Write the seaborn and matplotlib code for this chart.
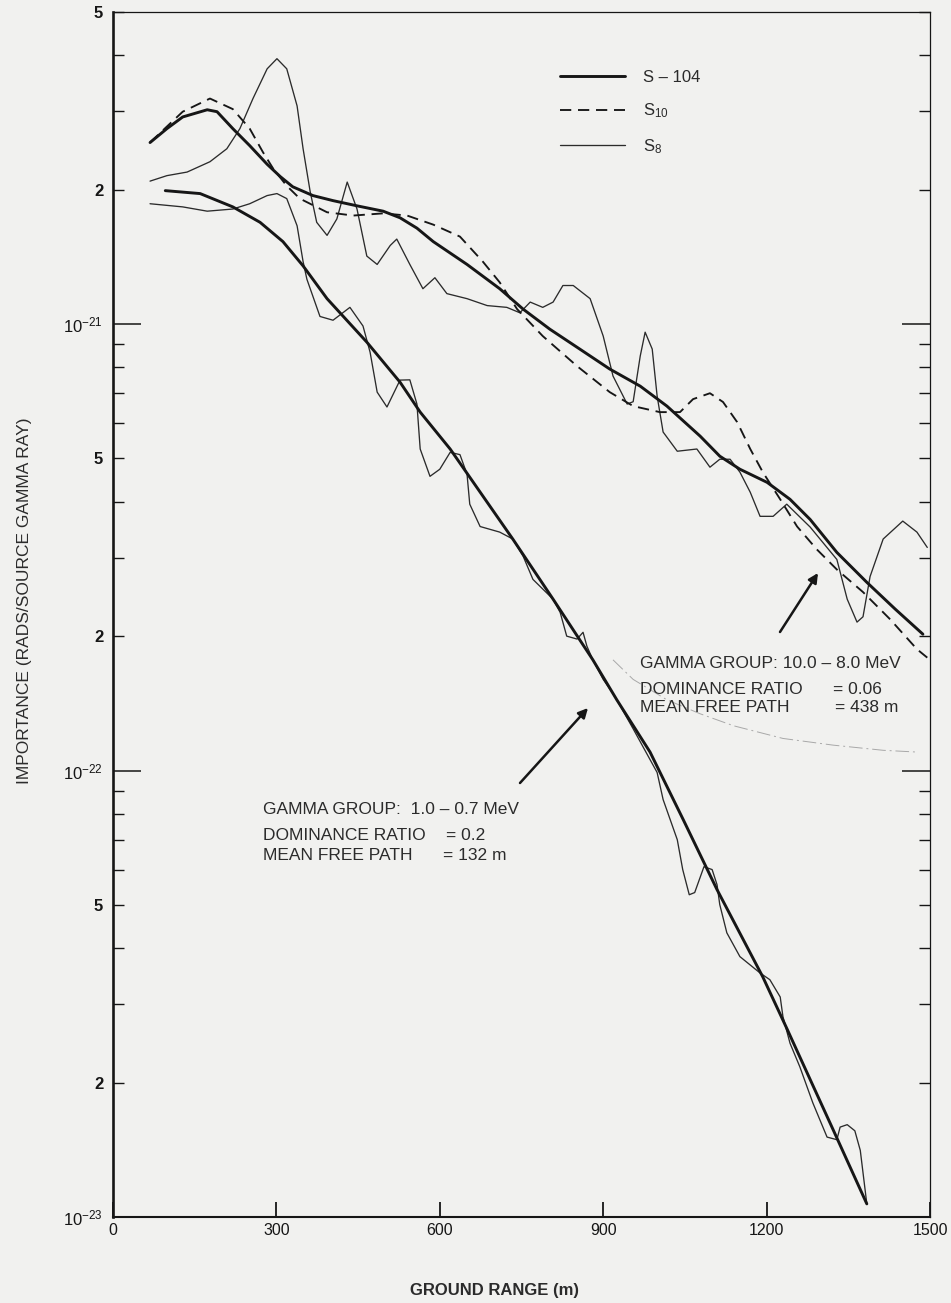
import numpy as np
import seaborn as sns
import matplotlib.pyplot as plt
from matplotlib.lines import Line2D

# Upper group (10.0 - 8.0 MeV): ground range (m) and importance
up_x_s104 = [68, 99, 128, 173, 191, 220, 251, 283, 307, 330, 367, 404, 448, 496, 527, 558, 588,
             650, 710, 753, 802, 857, 912, 968, 1017, 1078, 1114, 1151, 1201, 1243, 1280, 1329,
             1384, 1436, 1487]
up_y_s104 = [2.55e-21, 2.74e-21, 2.91e-21, 3.02e-21, 2.99e-21, 2.74e-21, 2.51e-21, 2.28e-21,
             2.14e-21, 2.03e-21, 1.94e-21, 1.89e-21, 1.84e-21, 1.79e-21, 1.73e-21, 1.64e-21,
             1.53e-21, 1.36e-21, 1.20e-21, 1.08e-21, 9.74e-22, 8.79e-22, 7.93e-22, 7.26e-22,
             6.55e-22, 5.61e-22, 5.06e-22, 4.73e-22, 4.42e-22, 4.05e-22, 3.65e-22, 3.08e-22,
             2.64e-22, 2.30e-22, 2.02e-22]

up_x_s10 = [68, 99, 128, 178, 220, 251, 275, 294, 319, 343, 393, 441, 496, 540, 588, 637, 679,
            710, 742, 789, 852, 912, 955, 1004, 1041, 1065, 1096, 1120, 1146, 1170, 1193, 1225,
            1256, 1292, 1329, 1377, 1427, 1476, 1495]
up_y_s10 = [2.55e-21, 2.77e-21, 2.99e-21, 3.20e-21, 3.03e-21, 2.74e-21, 2.43e-21, 2.23e-21,
            2.04e-21, 1.91e-21, 1.78e-21, 1.75e-21, 1.77e-21, 1.75e-21, 1.67e-21, 1.57e-21,
            1.38e-21, 1.24e-21, 1.08e-21, 9.4e-22, 8.05e-22, 7.04e-22, 6.55e-22, 6.35e-22,
            6.35e-22, 6.79e-22, 7.0e-22, 6.69e-22, 6.03e-22, 5.25e-22, 4.66e-22, 4.05e-22,
            3.52e-22, 3.13e-22, 2.82e-22, 2.51e-22, 2.18e-22, 1.87e-22, 1.79e-22]

up_x_s8 = [68, 99, 136, 178, 209, 233, 257, 283, 301, 319, 338, 349, 362, 374, 393, 411, 430,
           448, 466, 485, 509, 521, 545, 569, 591, 613, 650, 687, 723, 747, 766, 789, 808, 826,
           845, 876, 900, 918, 944, 955, 968, 977, 990, 999, 1010, 1036, 1072, 1096, 1114, 1133,
           1151, 1170, 1188, 1212, 1237, 1280, 1329, 1348, 1366, 1377, 1390, 1414, 1450, 1476,
           1495]
up_y_s8 = [2.09e-21, 2.15e-21, 2.19e-21, 2.31e-21, 2.47e-21, 2.74e-21, 3.20e-21, 3.73e-21,
           3.93e-21, 3.73e-21, 3.08e-21, 2.47e-21, 1.98e-21, 1.69e-21, 1.58e-21, 1.72e-21,
           2.08e-21, 1.81e-21, 1.42e-21, 1.36e-21, 1.50e-21, 1.55e-21, 1.36e-21, 1.20e-21,
           1.27e-21, 1.17e-21, 1.14e-21, 1.10e-21, 1.09e-21, 1.06e-21, 1.12e-21, 1.09e-21,
           1.12e-21, 1.22e-21, 1.22e-21, 1.14e-21, 9.4e-22, 7.65e-22, 6.62e-22, 6.7e-22,
           8.48e-22, 9.59e-22, 8.79e-22, 6.9e-22, 5.73e-22, 5.19e-22, 5.25e-22, 4.78e-22,
           4.98e-22, 4.98e-22, 4.66e-22, 4.2e-22, 3.71e-22, 3.71e-22, 3.95e-22, 3.51e-22,
           2.97e-22, 2.42e-22, 2.15e-22, 2.21e-22, 2.72e-22, 3.3e-22, 3.62e-22, 3.42e-22,
           3.16e-22]

# Lower group (1.0 - 0.7 MeV)
lo_x_s104 = [96, 160, 220, 270, 312, 349, 393, 466, 527, 564, 619, 679, 734, 808, 881, 925,
             986, 1047, 1109, 1193, 1238, 1322, 1384]
lo_y_s104 = [1.99e-21, 1.96e-21, 1.83e-21, 1.69e-21, 1.53e-21, 1.35e-21, 1.14e-21, 9.11e-22,
             7.41e-22, 6.35e-22, 5.25e-22, 4.12e-22, 3.30e-22, 2.42e-22, 1.77e-22, 1.44e-22,
             1.10e-22, 7.76e-23, 5.41e-23, 3.45e-23, 2.63e-23, 1.57e-23, 1.07e-23]

lo_x_s8 = [68, 128, 173, 220, 251, 283, 301, 319, 338, 349, 356, 380, 404, 435, 459, 472, 485,
           503, 527, 545, 558, 564, 582, 600, 619, 637, 650, 655, 674, 710, 734, 753, 771, 789,
           808, 821, 833, 852, 863, 870, 881, 900, 916, 925, 955, 999, 1010, 1036, 1046, 1058,
           1068, 1085, 1100, 1109, 1114, 1127, 1151, 1188, 1206, 1225, 1230, 1243, 1261, 1285,
           1311, 1329, 1335, 1348, 1362, 1372, 1384]
lo_y_s8 = [1.86e-21, 1.83e-21, 1.79e-21, 1.81e-21, 1.86e-21, 1.94e-21, 1.96e-21, 1.91e-21,
           1.66e-21, 1.38e-21, 1.26e-21, 1.04e-21, 1.02e-21, 1.09e-21, 9.9e-22, 8.65e-22,
           7.04e-22, 6.52e-22, 7.49e-22, 7.5e-22, 6.62e-22, 5.25e-22, 4.56e-22, 4.73e-22,
           5.16e-22, 5.1e-22, 4.61e-22, 3.95e-22, 3.52e-22, 3.42e-22, 3.30e-22, 3.02e-22,
           2.68e-22, 2.55e-22, 2.42e-22, 2.26e-22, 2.0e-22, 1.97e-22, 2.04e-22, 1.90e-22,
           1.77e-22, 1.60e-22, 1.50e-22, 1.44e-22, 1.24e-22, 9.9e-23, 8.61e-23, 7.0e-23,
           6.0e-23, 5.27e-23, 5.33e-23, 6.09e-23, 6.0e-23, 5.55e-23, 5.01e-23, 4.33e-23,
           3.83e-23, 3.52e-23, 3.40e-23, 3.11e-23, 2.81e-23, 2.45e-23, 2.17e-23, 1.80e-23,
           1.51e-23, 1.49e-23, 1.59e-23, 1.61e-23, 1.56e-23, 1.41e-23, 1.07e-23]

# faint guide curve under the upper annotation
faint_x = [918, 955, 1017, 1078, 1139, 1230, 1322, 1414, 1476]
faint_y = [1.77e-22, 1.60e-22, 1.44e-22, 1.34e-22, 1.26e-22, 1.18e-22, 1.14e-22, 1.11e-22, 1.10e-22]

x_ticks = [0, 300, 600, 900, 1200, 1500]
y_major = [1e-23, 1e-22, 1e-21]
y_major_labels = [r'$10^{-23}$', r'$10^{-22}$', r'$10^{-21}$']

sns.set_style("ticks")
plt.rcParams['font.family'] = ['Liberation Sans', 'DejaVu Sans']
plt.rcParams['mathtext.fontset'] = 'custom'
plt.rcParams['mathtext.rm'] = 'Liberation Sans'
plt.rcParams['mathtext.it'] = 'Liberation Sans:italic'
plt.rcParams['mathtext.bf'] = 'Liberation Sans:bold'

W, H = 951, 1303
def px(x, y):
    return (x / W, 1 - y / H)

bg = '#f1f1ef'
ink = '#161616'
fig = plt.figure(figsize=(W / 100, H / 100), dpi=100, facecolor=bg)
ax = fig.add_axes([113 / W, 86 / H, 817 / W, 1205 / H])
ax.set_facecolor(bg)

thick = dict(color=ink, lw=2.1, estimator=None, sort=False, ax=ax)
thin = dict(color='#2b2b2b', lw=0.95, estimator=None, sort=False, ax=ax)

sns.lineplot(x=faint_x, y=faint_y, color='#a8a8a8', lw=0.7, linestyle=(0, (14, 4, 2, 4)),
             estimator=None, sort=False, ax=ax)
sns.lineplot(x=up_x_s8, y=up_y_s8, **thin)
sns.lineplot(x=lo_x_s8, y=lo_y_s8, **thin)
sns.lineplot(x=up_x_s10, y=up_y_s10, color=ink, lw=1.35, linestyle=(0, (6, 3.6)),
             estimator=None, sort=False, ax=ax)
sns.lineplot(x=up_x_s104, y=up_y_s104, **thick)
sns.lineplot(x=lo_x_s104, y=lo_y_s104, **thick)

ax.set_yscale('log')
ax.set_xlim(0, 1500)
ax.set_ylim(1e-23, 5e-21)

ax.set_xticks(x_ticks, [str(t) for t in x_ticks])
ax.set_yticks(y_major, y_major_labels)
minor_vals = [k * 10.0 ** e for e in (-23, -22, -21) for k in range(2, 10) if k * 10.0 ** e < 5.01e-21]
minor_labels = [str(k) if k in (2, 5) else '' for e in (-23, -22, -21) for k in range(2, 10)
                if k * 10.0 ** e < 5.01e-21]
ax.set_yticks(minor_vals, minor_labels, minor=True)
for lab in ax.get_yticklabels(minor=True):
    lab.set_fontweight('bold')

ax.tick_params(axis='y', which='major', direction='in', length=20, width=1.1,
               left=True, right=True, labelsize=12, pad=7, colors=ink)
ax.tick_params(axis='y', which='minor', direction='in', length=8, width=1.0,
               left=True, right=True, labelsize=12, pad=7, colors=ink)
ax.tick_params(axis='x', which='major', direction='in', length=11, width=1.3,
               top=False, labelsize=11.5, pad=4, colors=ink)
ax.tick_params(axis='x', which='minor', bottom=False, top=False)

for side, w in (('left', 1.9), ('bottom', 1.5), ('top', 0.9), ('right', 0.9)):
    ax.spines[side].set_visible(True)
    ax.spines[side].set_linewidth(w)
    ax.spines[side].set_color(ink)

handles = [Line2D([], [], color=ink, lw=2.1),
           Line2D([], [], color=ink, lw=1.35, linestyle=(0, (6, 3.6))),
           Line2D([], [], color='#2b2b2b', lw=0.95)]
ax.legend(handles, ['S – 104', 'S$_{10}$', 'S$_{8}$'], loc='upper left',
          bbox_to_anchor=px(560, 70), bbox_transform=fig.transFigure, frameon=False,
          fontsize=12, handlelength=3.9, handletextpad=1.1, labelspacing=1.0,
          borderpad=0, borderaxespad=0, labelcolor='#2b2b2b')

txt = dict(fontsize=12.5, color='#2b2b2b', va='center', ha='left')
fig.text(*px(640, 663), 'GAMMA GROUP: 10.0 – 8.0 MeV', **txt)
fig.text(*px(640, 690), 'DOMINANCE RATIO', **txt)
fig.text(*px(833, 690), '= 0.06', **txt)
fig.text(*px(640, 708), 'MEAN FREE PATH', **txt)
fig.text(*px(835, 708), '= 438 m', **txt)

fig.text(*px(263, 810), 'GAMMA GROUP:  1.0 – 0.7 MeV', **txt)
fig.text(*px(263, 835), 'DOMINANCE RATIO', **txt)
fig.text(*px(446, 835), '= 0.2', **txt)
fig.text(*px(263, 855), 'MEAN FREE PATH', **txt)
fig.text(*px(443, 855), '= 132 m', **txt)

arrow = dict(arrowstyle='-|>', color=ink, lw=1.8, mutation_scale=14, shrinkA=0, shrinkB=0)
ax.annotate('', xy=px(588, 708), xytext=px(520, 783), xycoords='figure fraction',
            textcoords='figure fraction', arrowprops=arrow)
ax.annotate('', xy=px(818, 573), xytext=px(780, 632), xycoords='figure fraction',
            textcoords='figure fraction', arrowprops=arrow)

ax.set_xlabel('')
ax.set_ylabel('')
fig.text(*px(495, 1291), 'GROUND RANGE (m)', ha='center', va='center', fontsize=12,
         fontweight='bold', color='#2b2b2b')
fig.text(*px(25, 601), 'IMPORTANCE (RADS/SOURCE GAMMA RAY)', rotation=90, ha='center',
         va='center', fontsize=12.5, color='#2b2b2b')

fig.savefig('out.png', dpi=100, facecolor=bg)
